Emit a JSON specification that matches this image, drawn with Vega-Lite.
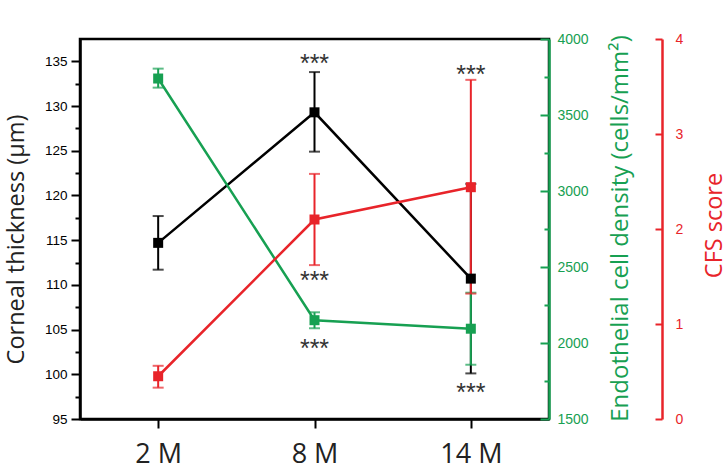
{
  "$schema": "https://vega.github.io/schema/vega-lite/v6.json",
  "autosize": "none",
  "width": 469,
  "height": 380,
  "padding": {"left": 80, "top": 39, "right": 179, "bottom": 53},
  "background": "white",
  "config": {
    "view": {"stroke": "black", "strokeWidth": 2.5},
    "axis": {"grid": false}
  },
  "datasets": {
    "d": [
      {"series": "CT", "t": "2 M", "v": 114.7, "lo": 111.7, "hi": 117.7, "sig": null},
      {"series": "CT", "t": "8 M", "v": 129.3, "lo": 124.9, "hi": 133.8, "sig": "above"},
      {"series": "CT", "t": "14 M", "v": 110.7, "lo": 100.1, "hi": 121.3, "sig": "below"},
      {"series": "ECD", "t": "2 M", "v": 3740, "lo": 3680, "hi": 3805, "sig": null},
      {"series": "ECD", "t": "8 M", "v": 2150, "lo": 2097, "hi": 2202, "sig": "below"},
      {"series": "ECD", "t": "14 M", "v": 2094, "lo": 1857, "hi": 2331, "sig": null},
      {"series": "CFS", "t": "2 M", "v": 0.45, "lo": 0.33, "hi": 0.56, "sig": null},
      {"series": "CFS", "t": "8 M", "v": 2.1, "lo": 1.62, "hi": 2.58, "sig": "below"},
      {"series": "CFS", "t": "14 M", "v": 2.44, "lo": 1.32, "hi": 3.57, "sig": "above"}
    ]
  },
  "data": {"name": "d"},
  "encoding": {
    "x": {
      "field": "t", "type": "ordinal",
      "scale": {"type": "point", "domain": ["2 M", "8 M", "14 M"], "padding": 0.5},
      "axis": {
        "title": null, "labelAngle": 0, "domain": true, "domainColor": "black", "domainWidth": 2.5,
        "tickColor": "black", "tickWidth": 2, "tickSize": 9,
        "labelFont": "Open Sans", "labelFontSize": 27, "labelColor": "#222", "labelPadding": 13
      }
    }
  },
  "resolve": {"scale": {"y": "independent"}},
  "layer": [
    {
      "transform": [{"filter": "datum.series === 'CT'"}],
      "mark": {"type": "rule", "color": "black", "strokeWidth": 2},
      "encoding": {
        "y": {
          "field": "lo", "type": "quantitative",
          "scale": {"domain": [95, 137.5], "nice": false, "zero": false},
          "axis": {
            "orient": "left", "title": "Corneal thickness (µm)",
            "values": [95, 97.5, 100, 102.5, 105, 107.5, 110, 112.5, 115, 117.5, 120, 122.5, 125, 127.5, 130, 132.5, 135],
            "labelExpr": "datum.value % 5 === 0 ? datum.label : ''",
            "tickSize": {"condition": {"test": "datum.value % 5 === 0", "value": 9}, "value": 5},
            "tickWidth": 2, "tickColor": "black",
            "domainColor": "black", "domainWidth": 2.5,
            "labelFont": "Liberation Sans", "labelFontSize": 13.5, "labelColor": "black", "labelPadding": 4,
            "titleFont": "Open Sans", "titleFontSize": 23.5, "titleFontWeight": "normal", "titleColor": "#222",
            "titleAngle": 270, "titleX": -64, "titleY": 200, "titleAlign": "center", "titleBaseline": "middle"
          }
        },
        "y2": {"field": "hi"}
      }
    },
    {
      "transform": [{"filter": "datum.series === 'CT'"}],
      "mark": {"type": "tick", "color": "black", "size": 11, "thickness": 2},
      "encoding": {"y": {"field": "lo", "type": "quantitative", "scale": {"domain": [95, 137.5], "nice": false, "zero": false}, "axis": null}}
    },
    {
      "transform": [{"filter": "datum.series === 'CT'"}],
      "mark": {"type": "tick", "color": "black", "size": 11, "thickness": 2},
      "encoding": {"y": {"field": "hi", "type": "quantitative", "scale": {"domain": [95, 137.5], "nice": false, "zero": false}, "axis": null}}
    },
    {
      "transform": [{"filter": "datum.series === 'ECD'"}],
      "mark": {"type": "rule", "color": "#17a052", "strokeWidth": 2},
      "encoding": {
        "y": {
          "field": "lo", "type": "quantitative",
          "scale": {"domain": [1500, 4000], "nice": false, "zero": false},
          "axis": {
            "orient": "right", "offset": 0, "title": "Endothelial cell density (cells/mm²)",
            "values": [1500, 1750, 2000, 2250, 2500, 2750, 3000, 3250, 3500, 3750, 4000],
            "labelExpr": "datum.value % 500 === 0 ? datum.label : ''",
            "format": "d",
            "tickSize": {"condition": {"test": "datum.value % 500 === 0", "value": -9}, "value": -5},
            "tickWidth": 2, "tickColor": "#17a052",
            "domainColor": "#17a052", "domainWidth": 2.5,
            "labelFont": "Liberation Sans", "labelFontSize": 14, "labelColor": "#17a052", "labelPadding": 17,
            "titleFont": "Open Sans", "titleFontSize": 24, "titleFontWeight": "normal", "titleColor": "#17a052",
            "titleAngle": 270, "titleX": 71, "titleY": 189, "titleAlign": "center", "titleBaseline": "middle"
          }
        },
        "y2": {"field": "hi"}
      }
    },
    {
      "transform": [{"filter": "datum.series === 'ECD'"}],
      "mark": {"type": "tick", "color": "#17a052", "size": 11, "thickness": 2},
      "encoding": {"y": {"field": "lo", "type": "quantitative", "scale": {"domain": [1500, 4000], "nice": false, "zero": false}, "axis": null}}
    },
    {
      "transform": [{"filter": "datum.series === 'ECD'"}],
      "mark": {"type": "tick", "color": "#17a052", "size": 11, "thickness": 2},
      "encoding": {"y": {"field": "hi", "type": "quantitative", "scale": {"domain": [1500, 4000], "nice": false, "zero": false}, "axis": null}}
    },
    {
      "transform": [{"filter": "datum.series === 'CFS'"}],
      "mark": {"type": "rule", "color": "#e8242a", "strokeWidth": 2},
      "encoding": {
        "y": {
          "field": "lo", "type": "quantitative",
          "scale": {"domain": [0, 4], "nice": false, "zero": false},
          "axis": {
            "orient": "right", "offset": 113, "title": "CFS score",
            "values": [0, 0.5, 1, 1.5, 2, 2.5, 3, 3.5, 4],
            "format": "d",
            "labelExpr": "datum.value % 1 === 0 ? datum.label : ''",
            "tickSize": {"condition": {"test": "datum.value % 1 === 0", "value": -7}, "value": -4},
            "tickWidth": 2, "tickColor": "#e8242a",
            "domainColor": "#e8242a", "domainWidth": 2.5,
            "labelFont": "Liberation Sans", "labelFontSize": 14, "labelColor": "#e8242a", "labelPadding": 20,
            "titleFont": "Open Sans", "titleFontSize": 23.5, "titleFontWeight": "normal", "titleColor": "#e8242a",
            "titleAngle": 270, "titleX": 52, "titleY": 186, "titleAlign": "center", "titleBaseline": "middle"
          }
        },
        "y2": {"field": "hi"}
      }
    },
    {
      "transform": [{"filter": "datum.series === 'CFS'"}],
      "mark": {"type": "tick", "color": "#e8242a", "size": 11, "thickness": 2},
      "encoding": {"y": {"field": "lo", "type": "quantitative", "scale": {"domain": [0, 4], "nice": false, "zero": false}, "axis": null}}
    },
    {
      "transform": [{"filter": "datum.series === 'CFS'"}],
      "mark": {"type": "tick", "color": "#e8242a", "size": 11, "thickness": 2},
      "encoding": {"y": {"field": "hi", "type": "quantitative", "scale": {"domain": [0, 4], "nice": false, "zero": false}, "axis": null}}
    },
    {
      "transform": [{"filter": "datum.series === 'CT'"}],
      "mark": {"type": "line", "color": "black", "strokeWidth": 2.5},
      "encoding": {"y": {"field": "v", "type": "quantitative", "scale": {"domain": [95, 137.5], "nice": false, "zero": false}, "axis": null}}
    },
    {
      "transform": [{"filter": "datum.series === 'ECD'"}],
      "mark": {"type": "line", "color": "#17a052", "strokeWidth": 2.5},
      "encoding": {"y": {"field": "v", "type": "quantitative", "scale": {"domain": [1500, 4000], "nice": false, "zero": false}, "axis": null}}
    },
    {
      "transform": [{"filter": "datum.series === 'CFS'"}],
      "mark": {"type": "line", "color": "#e8242a", "strokeWidth": 2.5},
      "encoding": {"y": {"field": "v", "type": "quantitative", "scale": {"domain": [0, 4], "nice": false, "zero": false}, "axis": null}}
    },
    {
      "transform": [{"filter": "datum.series === 'CT'"}],
      "mark": {"type": "point", "shape": "square", "filled": true, "color": "black", "size": 100, "opacity": 1},
      "encoding": {"y": {"field": "v", "type": "quantitative", "scale": {"domain": [95, 137.5], "nice": false, "zero": false}, "axis": null}}
    },
    {
      "transform": [{"filter": "datum.series === 'ECD'"}],
      "mark": {"type": "point", "shape": "square", "filled": true, "color": "#17a052", "size": 100, "opacity": 1},
      "encoding": {"y": {"field": "v", "type": "quantitative", "scale": {"domain": [1500, 4000], "nice": false, "zero": false}, "axis": null}}
    },
    {
      "transform": [{"filter": "datum.series === 'CFS'"}],
      "mark": {"type": "point", "shape": "square", "filled": true, "color": "#e8242a", "size": 100, "opacity": 1},
      "encoding": {"y": {"field": "v", "type": "quantitative", "scale": {"domain": [0, 4], "nice": false, "zero": false}, "axis": null}}
    },
    {
      "transform": [{"filter": "datum.series === 'CT' && datum.sig === 'above'"}],
      "mark": {"type": "text", "text": "***", "font": "Liberation Sans", "fontSize": 25, "color": "#333", "baseline": "middle", "dy": -8},
      "encoding": {"y": {"field": "hi", "type": "quantitative", "scale": {"domain": [95, 137.5], "nice": false, "zero": false}, "axis": null}}
    },
    {
      "transform": [{"filter": "datum.series === 'CT' && datum.sig === 'below'"}],
      "mark": {"type": "text", "text": "***", "font": "Liberation Sans", "fontSize": 25, "color": "#333", "baseline": "middle", "dy": 20},
      "encoding": {"y": {"field": "lo", "type": "quantitative", "scale": {"domain": [95, 137.5], "nice": false, "zero": false}, "axis": null}}
    },
    {
      "transform": [{"filter": "datum.series === 'ECD' && datum.sig === 'below'"}],
      "mark": {"type": "text", "text": "***", "font": "Liberation Sans", "fontSize": 25, "color": "#333", "baseline": "middle", "dy": 21},
      "encoding": {"y": {"field": "lo", "type": "quantitative", "scale": {"domain": [1500, 4000], "nice": false, "zero": false}, "axis": null}}
    },
    {
      "transform": [{"filter": "datum.series === 'CFS' && datum.sig === 'above'"}],
      "mark": {"type": "text", "text": "***", "font": "Liberation Sans", "fontSize": 25, "color": "#333", "baseline": "middle", "dy": -5},
      "encoding": {"y": {"field": "hi", "type": "quantitative", "scale": {"domain": [0, 4], "nice": false, "zero": false}, "axis": null}}
    },
    {
      "transform": [{"filter": "datum.series === 'CFS' && datum.sig === 'below'"}],
      "mark": {"type": "text", "text": "***", "font": "Liberation Sans", "fontSize": 25, "color": "#333", "baseline": "middle", "dy": 16},
      "encoding": {"y": {"field": "lo", "type": "quantitative", "scale": {"domain": [0, 4], "nice": false, "zero": false}, "axis": null}}
    }
  ]
}
